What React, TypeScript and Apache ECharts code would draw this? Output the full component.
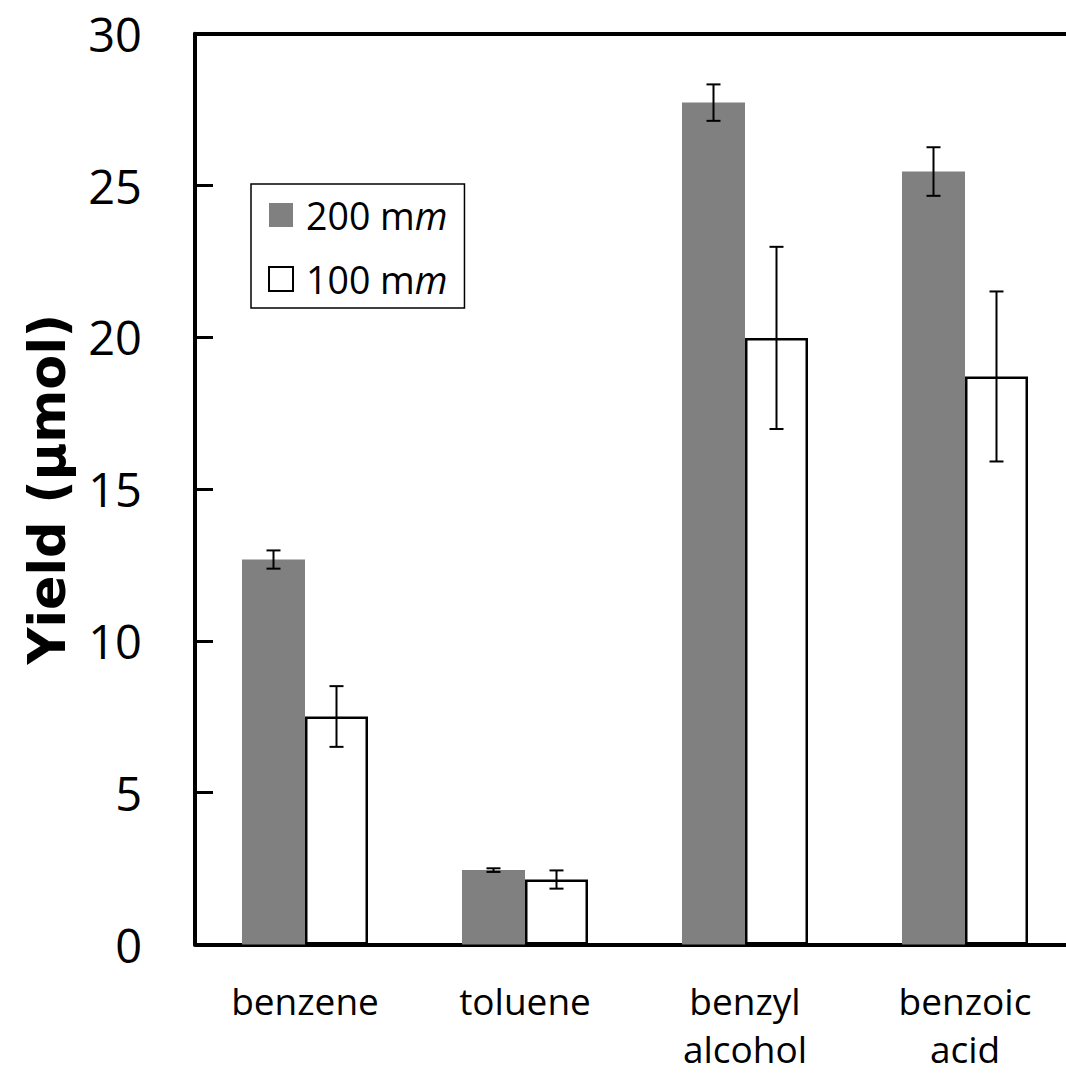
import React, { useEffect, useRef } from "react";
import * as echarts from "echarts";

const categories = ["benzene", "toluene", "benzyl\nalcohol", "benzoic\nacid"];
const seriesNames = ["200 mm", "100 mm"];
const yield200 = [12.68, 2.45, 27.73, 25.46];
const err200 = [0.3, 0.06, 0.6, 0.8];
const yield100 = [7.51, 2.14, 19.98, 18.71];
const err100 = [1.0, 0.3, 3.0, 2.8];
const yTicks = { min: 0, max: 30, interval: 5 };
const yTitle = "Yield (μmol)";

const BAR_W = 63;

function errData(vals: number[], errs: number[]) {
  return vals.map((v, i) => [i, v - errs[i], v + errs[i]]);
}

function errSeries(vals: number[], errs: number[], offset: number) {
  return {
    type: "custom",
    z: 10,
    silent: true,
    encode: { x: 0, y: [1, 2] },
    data: errData(vals, errs),
    renderItem: (params: any, api: any) => {
      const lo = api.coord([api.value(0), api.value(1)]);
      const hi = api.coord([api.value(0), api.value(2)]);
      const x = lo[0] + offset;
      const cap = 7;
      const style = { stroke: "#000", lineWidth: 2, fill: "none" };
      return {
        type: "group",
        children: [
          { type: "line", shape: { x1: x, y1: lo[1], x2: x, y2: hi[1] }, style },
          { type: "line", shape: { x1: x - cap, y1: lo[1], x2: x + cap, y2: lo[1] }, style },
          { type: "line", shape: { x1: x - cap, y1: hi[1], x2: x + cap, y2: hi[1] }, style },
        ],
      };
    },
  };
}

export default function App() {
  const ref = useRef<HTMLDivElement>(null);
  useEffect(() => {
    if (!ref.current) return;
    const chart = echarts.init(ref.current, null, { renderer: "svg" });
    chart.setOption({
      animation: false,
      backgroundColor: "#fff",
      grid: {
        left: 195,
        top: 33.7,
        width: 880,
        height: 910.8,
        show: false,
        outerBoundsMode: "none",
        containLabel: false,
      },
      legend: {
        orient: "vertical",
        left: 251,
        top: 184,
        data: seriesNames,
        icon: "rect",
        itemWidth: 24,
        itemHeight: 24,
        itemGap: 24,
        padding: [11, 17, 9, 17],
        borderColor: "#000",
        borderWidth: 1.5,
        backgroundColor: "#fff",
        formatter: (name: string) => `{n|${name.slice(0, -1)}}{i|${name.slice(-1)}}`,
        textStyle: {
          lineHeight: 40,
          rich: {
            n: { fontFamily: "Open Sans", fontSize: 37.5, color: "#000", padding: [0, 0, 0, 8], lineHeight: 40 },
            i: { fontFamily: "Open Sans", fontSize: 37.5, fontStyle: "italic", color: "#000", lineHeight: 40 },
          },
        },
      },
      xAxis: [
        {
          type: "category",
          data: categories,
          axisLine: { lineStyle: { color: "#000", width: 4 } },
          axisTick: { show: false },
          axisLabel: { color: "#000", fontFamily: "Open Sans", fontSize: 37, lineHeight: 48, margin: 32, interval: 0 },
        },
        {
          type: "category",
          data: categories,
          position: "top",
          axisLine: { lineStyle: { color: "#000", width: 4 } },
          axisTick: { show: false },
          axisLabel: { show: false },
        },
      ],
      yAxis: {
        type: "value",
        min: yTicks.min,
        max: yTicks.max,
        interval: yTicks.interval,
        name: yTitle,
        nameLocation: "middle",
        nameGap: 122,
        nameTextStyle: { fontFamily: "DejaVu Sans", fontWeight: "bold", fontSize: 51, color: "#000" },
        axisLine: { show: true, lineStyle: { color: "#000", width: 4 } },
        axisTick: { show: true, inside: true, length: 18, lineStyle: { color: "#000", width: 3 } },
        axisLabel: { color: "#000", fontFamily: "Open Sans", fontSize: 47, margin: 53 },
        splitLine: { show: false },
      },
      series: [
        {
          name: seriesNames[0],
          type: "bar",
          data: yield200,
          barWidth: BAR_W,
          barGap: "0%",
          itemStyle: { color: "#808080" },
        },
        {
          name: seriesNames[1],
          type: "bar",
          data: yield100,
          barWidth: BAR_W,
          barGap: "0%",
          itemStyle: { color: "#fff", borderColor: "#000", borderWidth: 2.5 },
        },
        errSeries(yield200, err200, -BAR_W / 2),
        errSeries(yield100, err100, BAR_W / 2),
      ],
    });
    return () => chart.dispose();
  }, []);
  return <div ref={ref} style={{ position: "absolute", left: 0, top: 0, width: 1066, height: 1075 }} />;
}
